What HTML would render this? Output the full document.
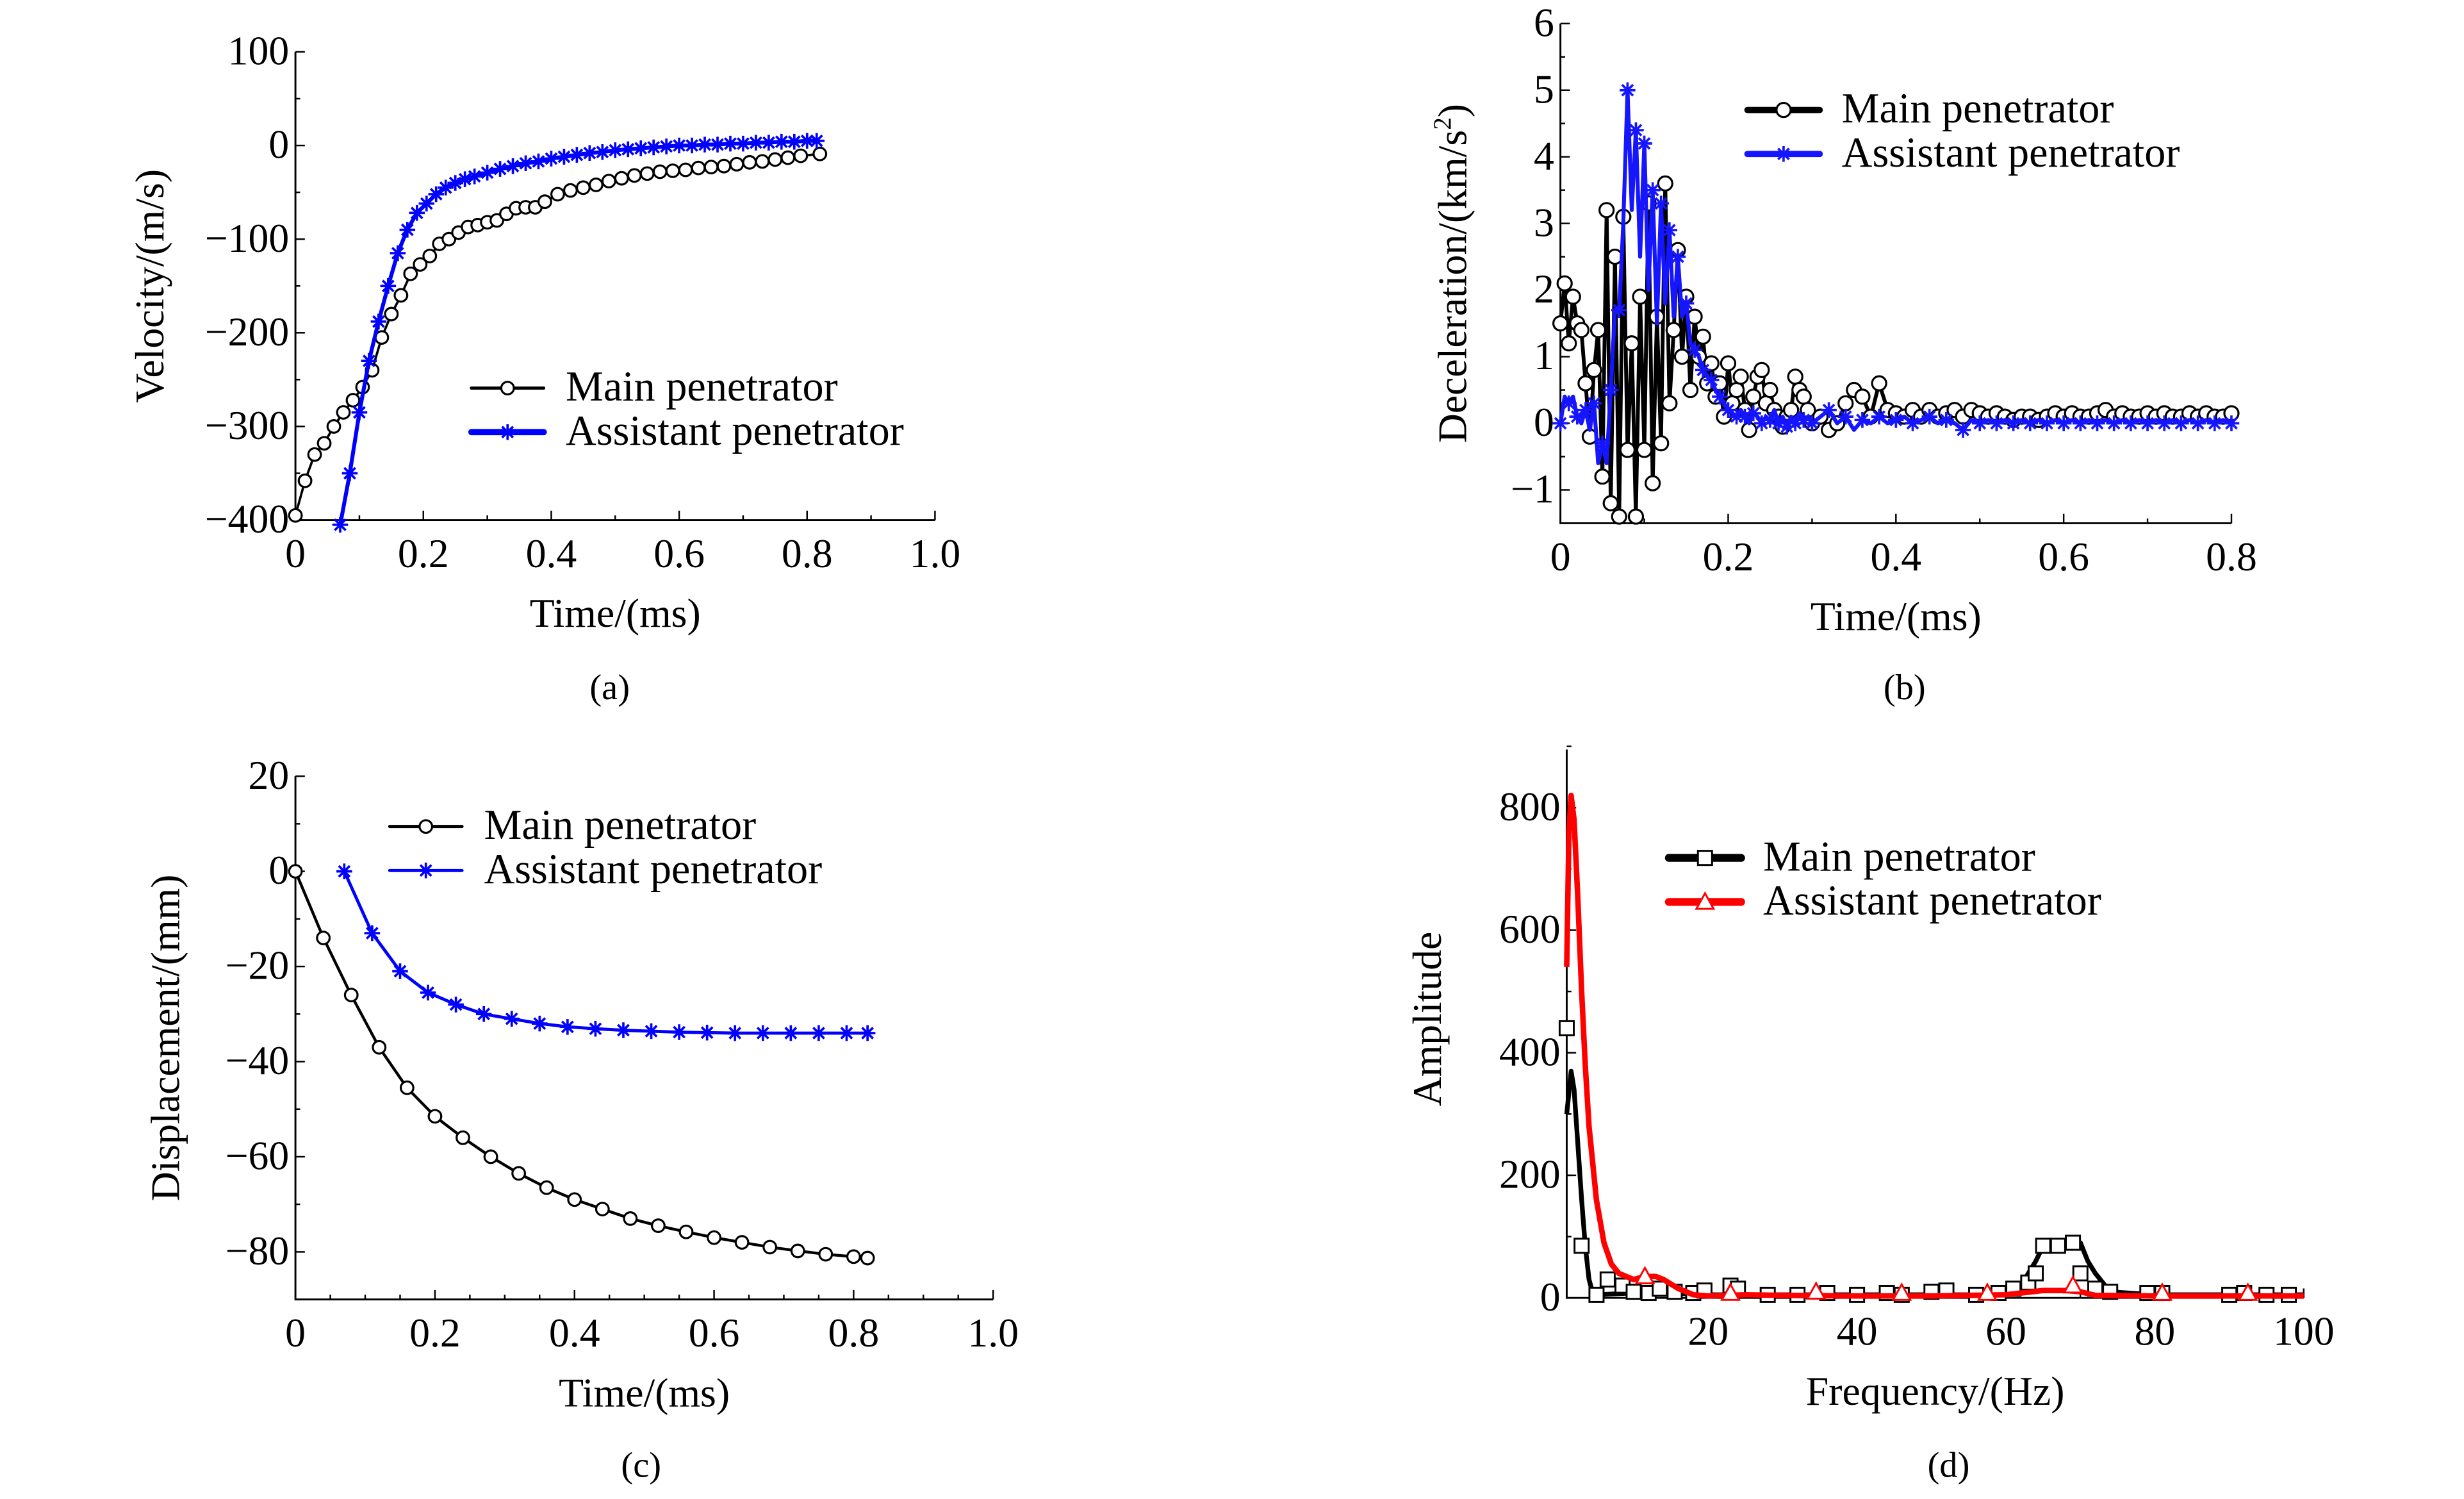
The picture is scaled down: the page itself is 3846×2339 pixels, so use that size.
<!DOCTYPE html>
<html><head><meta charset="utf-8"><style>
html,body{margin:0;padding:0;background:#fff;}
svg{display:block;font-family:"Liberation Serif",serif;}
</style></head><body>
<svg id="fig" width="3846" height="2339" viewBox="0 0 1568 954" preserveAspectRatio="none" xmlns="http://www.w3.org/2000/svg"></svg>
<script>
// ---- Panel (a) velocity ----
const velMainT = [0,0.015,0.03,0.045,0.06,0.075,0.09,0.105,0.12,0.135,0.15,0.165,0.18,0.195,0.21,0.225,0.24,0.255,0.27,0.285,0.3,0.315,0.33,0.345,0.36,0.375,0.39,0.41,0.43,0.45,0.47,0.49,0.51,0.53,0.55,0.57,0.59,0.61,0.63,0.65,0.67,0.69,0.71,0.73,0.75,0.77,0.79,0.82];
const velMainV = [-395,-358,-330,-318,-300,-285,-272,-258,-240,-205,-180,-160,-137,-127,-118,-105,-100,-93,-87,-85,-82,-80,-73,-67,-66,-66,-60,-52,-48,-45,-42,-38,-35,-32,-30,-28,-27,-26,-24,-23,-22,-20,-18,-17,-15,-13,-11,-9];
const velAsstT = [0.07,0.085,0.1,0.115,0.13,0.145,0.16,0.175,0.19,0.205,0.22,0.235,0.25,0.265,0.28,0.3,0.32,0.34,0.36,0.38,0.4,0.42,0.44,0.46,0.48,0.5,0.52,0.54,0.56,0.58,0.6,0.62,0.64,0.66,0.68,0.7,0.72,0.74,0.76,0.78,0.8,0.815];
const velAsstV = [-405,-350,-285,-230,-188,-150,-115,-90,-72,-62,-52,-45,-40,-36,-33,-29,-25,-22,-19,-17,-14,-12,-10,-8,-7,-5,-4,-3,-2,-1,0,0,1,1,2,2,3,3,4,4,5,5];
// ---- Panel (b) deceleration ----
const decT = [];
for (let i=0;i<=60;i++) decT.push(+(i*0.005).toFixed(3));
for (let i=31;i<=80;i++) decT.push(+(i*0.01).toFixed(2));
const decMain = [1.5,2.1,1.2,1.9,1.5,1.4,0.6,-0.2,0.8,1.4,-0.8,3.2,-1.2,2.5,-1.4,3.1,-0.4,1.2,-1.4,1.9,-0.4,3.3,-0.9,1.6,-0.3,3.6,0.3,1.4,2.6,1.0,1.9,0.5,1.6,1.0,1.3,0.6,0.9,0.4,0.6,0.1,0.9,0.3,0.5,0.7,0.2,-0.1,0.4,0.7,0.8,0.3,0.5,0.2,0.1,-0.05,0.1,0.2,0.7,0.5,0.4,0.2,0.0,
  0.1,-0.1,0.0,0.3,0.5,0.4,0.1,0.6,0.2,0.15,0.1,0.2,0.1,0.2,0.1,0.15,0.2,0.1,0.2,0.15,0.1,0.15,0.1,0.05,0.1,0.1,0.05,0.1,0.15,0.1,0.15,0.1,0.1,0.15,0.2,0.1,0.15,0.1,0.1,0.15,0.1,0.15,0.1,0.1,0.15,0.1,0.15,0.1,0.1,0.15];
const decAsst = [0.0,0.4,0.3,0.4,0.1,0.0,0.2,-0.1,0.3,-0.6,-0.3,-0.6,0.5,1.7,1.7,3.0,5.0,3.2,4.4,2.5,4.2,2.0,3.5,1.5,3.3,1.8,2.9,1.6,2.5,1.6,1.8,1.2,1.1,1.0,0.8,0.7,0.65,0.5,0.4,0.3,0.2,0.15,0.1,0.2,0.1,0.0,0.15,0.1,0.0,0.1,0.05,0.2,0.0,0.1,-0.05,0.1,0.0,0.15,0.05,0.1,0.0,
  0.1,0.2,0.0,0.1,-0.1,0.05,0.0,0.1,0.0,0.05,0.1,0.0,0.05,0.1,0.0,0.05,0.0,-0.1,0.05,0.0,0.05,0.0,0.05,0.0,0.05,0.0,0.05,0.0,0.05,0.0,0.05,0.0,0.05,0.0,0.05,0.0,0.05,0.0,0.05,0.0,0.05,0.0,0.05,0.0,0.05,0.0,0.05,0.0,0.05,0.0];
// ---- Panel (c) displacement ----
const dispMainT = [0,0.04,0.08,0.12,0.16,0.2,0.24,0.28,0.32,0.36,0.4,0.44,0.48,0.52,0.56,0.6,0.64,0.68,0.72,0.76,0.8,0.82];
const dispMainV = [0,-14,-26,-37,-45.5,-51.5,-56,-60,-63.5,-66.5,-69,-71,-73,-74.5,-75.8,-77,-78,-79,-79.8,-80.5,-81,-81.3];
const dispAsstT = [0.07,0.11,0.15,0.19,0.23,0.27,0.31,0.35,0.39,0.43,0.47,0.51,0.55,0.59,0.63,0.67,0.71,0.75,0.79,0.82];
const dispAsstV = [0,-13,-21,-25.5,-28,-30,-31,-32,-32.7,-33.1,-33.4,-33.6,-33.8,-33.9,-34,-34,-34,-34,-34,-34];
// ---- Panel (d) spectrum ----
const freqMain = [1,1.6,2,2.5,3,3.5,4,4.5,5,10,15,20,60,62,64,65,68,70,71,72,74,80,100];
const ampMain = [300,370,340,250,160,85,30,8,5,8,8,5,5,20,60,85,85,90,60,40,10,5,5];
const freqMainMk = [1,3,5,6.5,8.5,10,12,13.5,15.5,18,19.5,23,24,28,32,36,40,44,46,50,52,56,59,61,63,64,65,67,69,70,72,74,79,81,90,92,95,98];
const ampMainMk = [440,85,5,30,20,10,8,15,10,8,12,20,15,5,5,8,5,8,5,10,12,5,8,15,25,40,85,85,90,40,15,10,8,8,5,8,5,5];
const freqAsst = [1,1.3,1.6,2,2.5,3,3.5,4,5,6,7,8,9,10,11.5,13,14,16,18,20,25,30,40,50,60,65,68,70,72,80,100];
const ampAsst = [540,760,820,780,650,500,380,280,160,90,55,40,35,30,35,35,30,15,5,3,5,4,3,3,5,12,12,10,4,3,3];
const freqAsstMk = [11.5,23,34.5,46,57.5,69,81,92.5];
const ampAsstMk = [35,8,10,8,8,20,8,8];

const svg = document.getElementById('fig');
const NS = 'http://www.w3.org/2000/svg';
function mk(tag, attrs, parent){const e=document.createElementNS(NS,tag);for(const k in attrs)e.setAttribute(k,attrs[k]);(parent||svg).appendChild(e);return e;}
function txt(x,y,s,size,anchor,parent,rot){const t=mk('text',{x:x,y:y,'font-size':size,'text-anchor':anchor||'middle',fill:'#000'},parent);if(rot)t.setAttribute('transform','rotate(-90 '+x+' '+y+')');t.textContent=s;return t;}
function fmt(v){return v<0?'\u2212'+Math.abs(v):String(v);}

function marker(g,type,x,y,col,r){
  if(type==='circle'){const c=mk('circle',{cx:x,cy:y,r:r,fill:'#fff',stroke:col,'stroke-width':1.3},g);}
  else if(type==='star'){const p=mk('path',{d:`M${x-r},${y}H${x+r}M${x},${y-r}V${y+r}M${x-r*0.7},${y-r*0.7}L${x+r*0.7},${y+r*0.7}M${x-r*0.7},${y+r*0.7}L${x+r*0.7},${y-r*0.7}`,stroke:col,'stroke-width':1.5,fill:'none'},g);}
  else if(type==='square'){const s=mk('rect',{x:x-r,y:y-r,width:2*r,height:2*r,fill:'#fff',stroke:'#000','stroke-width':1.2},g);}
  else if(type==='tri'){const s=mk('path',{d:`M${x},${y-r}L${x+r},${y+r*0.8}L${x-r},${y+r*0.8}Z`,fill:'#fff',stroke:col,'stroke-width':1.2},g);}
}

function panel(o){
  const g=mk('g',{});
  
  
  const sx=v=>o.x0+(v-o.xmin)/(o.xmax-o.xmin)*(o.x1-o.x0);
  const sy=v=>o.y0-(v-o.ymin)/(o.ymax-o.ymin)*(o.y0-o.y1);
  const ax=mk('path',{d:`M${o.x0},${o.yTop}V${o.y0}H${o.xEnd}`,stroke:'#000','stroke-width':1.2,fill:'none'},g);
  
  (o.xminor||[]).forEach(v=>mk('path',{d:`M${sx(v)},${o.y0}v-3`,stroke:'#000','stroke-width':1},g));
  (o.yminor||[]).forEach(v=>mk('path',{d:`M${o.x0},${sy(v)}h3`,stroke:'#000','stroke-width':1},g));
  o.xticks.forEach(v=>{mk('path',{d:`M${sx(v)},${o.y0}v-6`,stroke:'#000','stroke-width':1},g);const t=txt(sx(v),o.y0+30,o.xfmt?o.xfmt(v):fmt(v),26,'middle',g);});
  o.yticks.forEach(v=>{mk('path',{d:`M${o.x0},${sy(v)}h6`,stroke:'#000','stroke-width':1},g);const t=txt(o.x0-4,sy(v)+8,fmt(v),26,'end',g);});
  const xt=txt((o.x0+o.xEnd)/2+(o.xtdx||0),o.y0+68,o.xlabel,26,'middle',g);
  const yt=txt(o.ylx,(o.y0+o.yTop)/2+(o.yldy||0),o.ylabel,26,'middle',g,true);
  if(o.sup){const ts=mk('tspan',{'font-size':16,dy:-10},yt);ts.textContent='2';const ts2=mk('tspan',{dy:10},yt);ts2.textContent=')';}
  const cap=txt(o.capx,o.capy,o.cap,23,'middle',g);
  o.series.forEach(s=>{
    const sg=mk('g',{},g);
    
    
    const n=Math.min(s.xs.length,s.ys.length);
    let d='';for(let i=0;i<n;i++)d+=(i?'L':'M')+sx(s.xs[i]).toFixed(1)+','+sy(s.ys[i]).toFixed(1);
    mk('path',{d:d,stroke:s.col,'stroke-width':s.lw||1.8,fill:'none','stroke-linejoin':'round'},sg);
    const mx=s.mxs||s.xs, my=s.mys||s.ys;
    const m=Math.min(mx.length,my.length);
    for(let i=0;i<m;i++){if(!s.every||i%s.every===0)marker(sg,s.m,sx(mx[i]),sy(my[i]),s.col,s.r||4);}
  });
  o.series.forEach((s,i)=>{
    const ly=o.legY+i*28,lx=o.legX;
    const lg=mk('g',{},g);
    
    
    mk('path',{d:`M${lx},${ly}h46`,stroke:s.col,'stroke-width':s.legLw||2,'stroke-linecap':'round'},lg);
    marker(lg,s.m,lx+23,ly,s.col,s.r||4);
    txt(lx+60,ly+8,s.label,27,'start',lg);
  });
}
const rng=(a,b,s)=>{const r=[];for(let v=a;v<=b+1e-9;v+=s)r.push(+v.toFixed(4));return r;};

panel({name:'velocity-chart',x0:188,x1:595,xmin:0,xmax:1,y0:331,y1:33,ymin:-400,ymax:100,yTop:33,xEnd:595,
  xticks:[0,0.2,0.4,0.6,0.8,1.0],xminor:rng(0.1,0.9,0.2),xfmt:v=>v===0?'0':v.toFixed(1),yticks:[100,0,-100,-200,-300,-400],yminor:rng(-350,50,100),
  xlabel:'Time/(ms)',ylabel:'Velocity/(m/s)',ylx:104,cap:'(a)',capx:388,capy:445,legX:300,legY:247,
  series:[{name:'main-penetrator-series',xs:velMainT,ys:velMainV,col:'#000',m:'circle',label:'Main penetrator',lw:1.5},
          {name:'assistant-penetrator-series',xs:velAsstT,ys:velAsstV,col:'#0000ff',m:'star',label:'Assistant penetrator',r:5,lw:2.5,legLw:4}]});

panel({name:'deceleration-chart',x0:993,x1:1420,xmin:0,xmax:0.8,y0:333,y1:15,ymin:-1.5,ymax:6,yTop:15,xEnd:1420,
  xticks:[0,0.2,0.4,0.6,0.8],xminor:rng(0.1,0.7,0.2),xfmt:v=>v===0?'0':v.toFixed(1),yticks:[6,5,4,3,2,1,0,-1],yminor:rng(-0.5,5.5,1),
  xlabel:'Time/(ms)',ylabel:'Deceleration/(km/s',sup:true,ylx:933,cap:'(b)',capx:1212,capy:445,legX:1112,legY:70,
  series:[{name:'main-penetrator-series',xs:decT,ys:decMain,col:'#000',m:'circle',label:'Main penetrator',lw:2.4,r:4.5,legLw:4},
          {name:'assistant-penetrator-series',xs:decT,ys:decAsst,col:'#1515ff',m:'star',label:'Assistant penetrator',lw:2.5,r:5,every:2,legLw:4}]});

panel({name:'displacement-chart',x0:188,x1:632,xmin:0,xmax:1,y0:827,y1:494,ymin:-90,ymax:20,yTop:494,xEnd:632,
  xticks:[0,0.2,0.4,0.6,0.8,1.0],xminor:rng(0.1,0.9,0.2).concat(rng(0.05,0.95,0.1)),xfmt:v=>v===0?'0':v.toFixed(1),yticks:[20,0,-20,-40,-60,-80],yminor:rng(-70,10,20),
  xlabel:'Time/(ms)',ylabel:'Displacement/(mm)',ylx:114,cap:'(c)',capx:408,capy:940,legX:248,legY:526,
  series:[{name:'main-penetrator-series',xs:dispMainT,ys:dispMainV,col:'#000',m:'circle',label:'Main penetrator',lw:1.8},
          {name:'assistant-penetrator-series',xs:dispAsstT,ys:dispAsstV,col:'#0000ff',m:'star',label:'Assistant penetrator',r:5,lw:2}]});

panel({name:'amplitude-spectrum-chart',x0:997,x1:1466,xmin:1,xmax:100,y0:826,y1:514,ymin:0,ymax:800,yTop:477,xEnd:1466,
  xticks:[20,40,60,80,100],xminor:rng(10,90,20),yticks:[0,200,400,600,800],yminor:rng(100,900,100),
  xlabel:'Frequency/(Hz)',ylabel:'Amplitude',ylx:917,yldy:-3,cap:'(d)',capx:1240,capy:940,legX:1062,legY:546,
  series:[{name:'main-penetrator-series',xs:freqMain,ys:ampMain,mxs:freqMainMk,mys:ampMainMk,col:'#000',m:'square',label:'Main penetrator',lw:3,legLw:5,r:4.5},
          {name:'assistant-penetrator-series',xs:freqAsst,ys:ampAsst,mxs:freqAsstMk,mys:ampAsstMk,col:'#ff0000',m:'tri',label:'Assistant penetrator',lw:3.5,legLw:5,r:5.5}]});
</script>
</body></html>
